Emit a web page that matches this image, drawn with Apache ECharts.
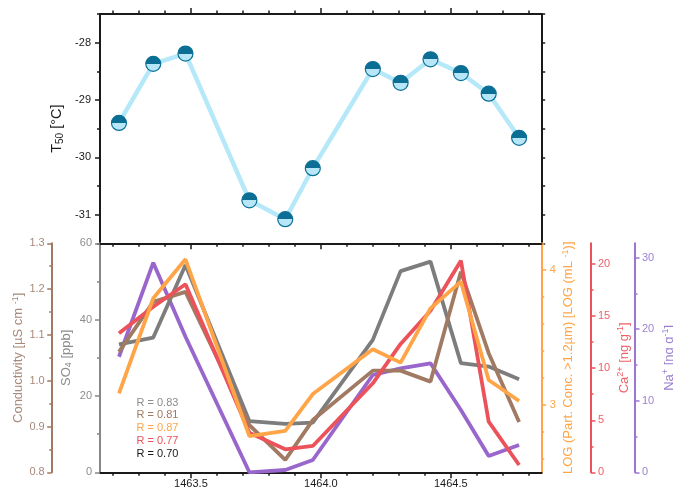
<!DOCTYPE html>
<html>
<head>
<meta charset="utf-8">
<script src="https://cdn.jsdelivr.net/npm/echarts@6/dist/echarts.min.js"></script>
<style>html,body{margin:0;padding:0;background:#fff;}#c{width:673px;height:489px;}</style>
</head>
<body>
<div id="c"></div>
<script>
// ---- data ----
const depth = [1463.223, 1463.355, 1463.479, 1463.725, 1463.863, 1463.969, 1464.200, 1464.307, 1464.422, 1464.539, 1464.646, 1464.763];
const t50 = [-29.40, -28.37, -28.19, -30.75, -31.08, -30.19, -28.46, -28.70, -28.29, -28.53, -28.89, -29.66];
const so4 = [33.5, 35.3, 54.3, 13.4, 12.7, 13.0, 34.7, 52.7, 55.2, 28.6, 27.7, 24.4];
const conductivity = [1.063, 1.172, 1.194, 0.903, 0.827, 0.914, 1.022, 1.022, 0.998, 1.238, 1.060, 0.910];
const logPart = [3.086, 3.792, 4.081, 2.769, 2.807, 3.081, 3.413, 3.314, 3.717, 3.915, 3.185, 3.029];
const ca = [13.35, 15.91, 18.06, 3.80, 2.21, 2.53, 8.55, 12.33, 15.52, 20.33, 4.86, 0.70];
const na = [16.15, 29.29, 18.95, 0.00, 0.32, 1.72, 13.60, 14.53, 15.23, 8.71, 2.28, 3.81];
const rLabels = ['R = 0.83', 'R = 0.81', 'R = 0.87', 'R = 0.77', 'R = 0.70'];

const xMajor = [1463.5, 1464.0, 1464.5];
const xMinor = [1463.2, 1463.3, 1463.4, 1463.6, 1463.7, 1463.8, 1463.9, 1464.1, 1464.2, 1464.3, 1464.4, 1464.6, 1464.7, 1464.8];
const tMajor = [-31, -30, -29, -28];
const tMinor = [-31.5, -30.5, -29.5, -28.5, -27.5];
const so4Major = [0, 20, 40, 60];
const so4Minor = [10, 30, 50];
const condMajor = [0.8, 0.9, 1.0, 1.1, 1.2, 1.3];
const condMinor = [0.85, 0.95, 1.05, 1.15, 1.25];
const logMajor = [3, 4];
const logMinor = [2.6, 2.8, 3.2, 3.4, 3.6, 3.8, 4.2];
const caMajor = [0, 5, 10, 15, 20];
const caMinor = [2.5, 7.5, 12.5, 17.5];
const naMajor = [0, 10, 20, 30];
const naMinor = [5, 15, 25];

// ---- styles ----
const FONT = 'Liberation Sans, Arial, sans-serif';
const C = {
  black: '#1a1a1a', gray: '#7d7d7d', grayTxt: '#8c8c8c',
  brown: '#a07a62', brownTxt: '#a8897a',
  orange: '#ffa548', red: '#eb525a', purple: '#9966cc', purpleTxt: '#9b7fd2',
  tline: '#b5e8f9', dark: '#0b6f95', light: '#b6e6f8'
};
const zip = a => depth.map((d, i) => [d, a[i]]);

function richName(color, size) {
  const s = size || 13;
  return {
    color: color, fontFamily: FONT, fontSize: s,
    rich: {
      n: { color: color, fontFamily: FONT, fontSize: s, lineHeight: s + 3 },
      sup: { color: color, fontFamily: FONT, fontSize: Math.round(s * 0.7), lineHeight: s + 3, verticalAlign: 'top', padding: [0, 0, 6, 0] },
      sub: { color: color, fontFamily: FONT, fontSize: Math.round(s * 0.7), lineHeight: s + 3, padding: [6, 0, 0, 0] }
    }
  };
}

function xAx(grid, pos, ticks, len, line, labels) {
  return {
    type: 'value', gridIndex: grid, position: pos, min: 1463.15, max: 1464.85,
    splitLine: { show: false },
    axisLine: { show: line, onZero: false, lineStyle: { color: C.black, width: 2 } },
    axisTick: { show: true, customValues: ticks, length: len, lineStyle: { color: C.black, width: 1.5 } },
    axisLabel: labels ? { show: true, customValues: ticks, margin: 6, color: C.black, fontFamily: FONT, fontSize: 11, formatter: v => v.toFixed(1) } : { show: false }
  };
}

function yAx(o) {
  const ax = {
    type: 'value', gridIndex: o.grid, position: o.pos, offset: o.offset || 0,
    min: o.min, max: o.max, splitLine: { show: false },
    axisLine: { show: !!o.line, onZero: false, lineStyle: { color: o.color, width: 2 } },
    axisTick: { show: true, customValues: o.ticks, length: o.len, lineStyle: { color: o.color, width: 1.5 } },
    axisLabel: o.labels ? { show: true, customValues: o.ticks, margin: o.margin || 7, color: o.txt || o.color, fontFamily: FONT, fontSize: 11, formatter: o.fmt || (v => String(v)) } : { show: false }
  };
  if (o.name) {
    ax.name = o.name; ax.nameLocation = 'middle'; ax.nameGap = o.gap; ax.nameRotate = 90;
    ax.nameMoveOverlap = false;
    ax.nameTextStyle = richName(o.txt || o.color, o.size);
  }
  return ax;
}

const option = {
  backgroundColor: '#fff',
  animation: false,
  grid: [
    { left: 100, top: 14, width: 441.7, height: 229.3, outerBoundsMode: 'none', containLabel: false },
    { left: 100, top: 243.3, width: 441.7, height: 229, outerBoundsMode: 'none', containLabel: false }
  ],
  xAxis: [
    xAx(0, 'bottom', xMajor, 6, true, false),
    xAx(0, 'bottom', xMinor, 3.5, false, false),
    xAx(0, 'top', xMajor, 6, true, false),
    xAx(0, 'top', xMinor, 3.5, false, false),
    xAx(1, 'bottom', xMajor, 6, true, true),
    xAx(1, 'bottom', xMinor, 3.5, false, false)
  ],
  yAxis: [
    yAx({ grid: 0, pos: 'left', min: -31.5, max: -27.5, ticks: tMajor, len: 5, line: true, labels: true, color: C.black, margin: 9,
          name: '{n|T}{sub|50}{n| [°C]}', gap: 34, size: 14.5 }),
    yAx({ grid: 0, pos: 'left', min: -31.5, max: -27.5, ticks: tMinor, len: 3, color: C.black }),
    yAx({ grid: 0, pos: 'right', min: -31.5, max: -27.5, ticks: tMajor.concat(tMinor), len: 3.5, line: true, color: C.black }),
    // SO4
    yAx({ grid: 1, pos: 'left', min: 0, max: 60, ticks: so4Major, len: 5, line: true, labels: true, color: '#888888', txt: C.grayTxt, margin: 8,
          name: '{n|SO}{sub|4}{n| [ppb]}', gap: 26 }),
    yAx({ grid: 1, pos: 'left', min: 0, max: 60, ticks: so4Minor, len: 3, color: '#888888' }),
    // Conductivity
    yAx({ grid: 1, pos: 'left', offset: 48.3, min: 0.8, max: 1.3, ticks: condMajor, len: 4.5, line: true, labels: true, color: C.brown, txt: C.brownTxt, margin: 7,
          fmt: v => v.toFixed(1), name: '{n|Conductivity [µS cm }{sup|-1}{n|]}', gap: 25 }),
    yAx({ grid: 1, pos: 'left', offset: 48.3, min: 0.8, max: 1.3, ticks: condMinor, len: 2.5, color: C.brown }),
    // LOG particles
    yAx({ grid: 1, pos: 'right', min: 2.5, max: 4.2, ticks: logMajor, len: 4.5, line: true, labels: true, color: C.orange, margin: 8,
          name: '{n|LOG (Part. Conc. >1.2µm) [LOG (mL }{sup|-1}{n|)]}', gap: 19 }),
    yAx({ grid: 1, pos: 'right', min: 2.5, max: 4.2, ticks: logMinor, len: 2.5, color: C.orange }),
    // Ca
    yAx({ grid: 1, pos: 'right', offset: 49.3, min: 0, max: 22, ticks: caMajor, len: 4.5, line: true, labels: true, color: C.red, txt: '#ee6068', margin: 7,
          name: '{n|Ca}{sup|2+}{n| [ng g}{sup|-1}{n|]}', gap: 25 }),
    yAx({ grid: 1, pos: 'right', offset: 49.3, min: 0, max: 22, ticks: caMinor, len: 2.5, color: C.red }),
    // Na
    yAx({ grid: 1, pos: 'right', offset: 93.3, min: 0, max: 32, ticks: naMajor, len: 4.5, line: true, labels: true, color: '#9b77cf', txt: C.purpleTxt, margin: 7,
          name: '{n|Na}{sup|+}{n| [ng g}{sup|-1}{n|]}', gap: 26 }),
    yAx({ grid: 1, pos: 'right', offset: 93.3, min: 0, max: 32, ticks: naMinor, len: 2.5, color: '#9b77cf' })
  ],
  series: [
    {
      type: 'line', xAxisIndex: 0, yAxisIndex: 0, data: zip(t50),
      lineStyle: { color: C.tline, width: 4.5 },
      symbol: 'circle', symbolSize: 15,
      itemStyle: {
        color: { type: 'linear', x: 0, y: 0, x2: 0, y2: 1, colorStops: [
          { offset: 0, color: C.dark }, { offset: 0.5, color: C.dark },
          { offset: 0.5, color: C.light }, { offset: 1, color: C.light }] },
        borderColor: C.dark, borderWidth: 1.2
      },
      z: 5
    },
    { type: 'line', xAxisIndex: 4, yAxisIndex: 11, data: zip(na), symbol: 'none', lineStyle: { color: C.purple, width: 3.8 } },
    { type: 'line', xAxisIndex: 4, yAxisIndex: 3, data: zip(so4), symbol: 'none', lineStyle: { color: C.gray, width: 3.8 } },
    { type: 'line', xAxisIndex: 4, yAxisIndex: 5, data: zip(conductivity), symbol: 'none', lineStyle: { color: C.brown, width: 3.8 } },
    { type: 'line', xAxisIndex: 4, yAxisIndex: 9, data: zip(ca), symbol: 'none', lineStyle: { color: C.red, width: 3.8 } },
    { type: 'line', xAxisIndex: 4, yAxisIndex: 7, data: zip(logPart), symbol: 'none', lineStyle: { color: C.orange, width: 3.8 } }
  ],
  graphic: rLabels.map((t, i) => ({
    type: 'text', x: 136.5, y: 402.7 + i * 12.75, z: 100,
    style: { text: t, fill: [C.grayTxt, C.brown, C.orange, C.red, C.black][i], font: '11px ' + FONT, verticalAlign: 'middle', align: 'left' }
  }))
};

const chart = echarts.init(document.getElementById('c'), null, { renderer: 'canvas' });
chart.setOption(option);
</script>
</body>
</html>
